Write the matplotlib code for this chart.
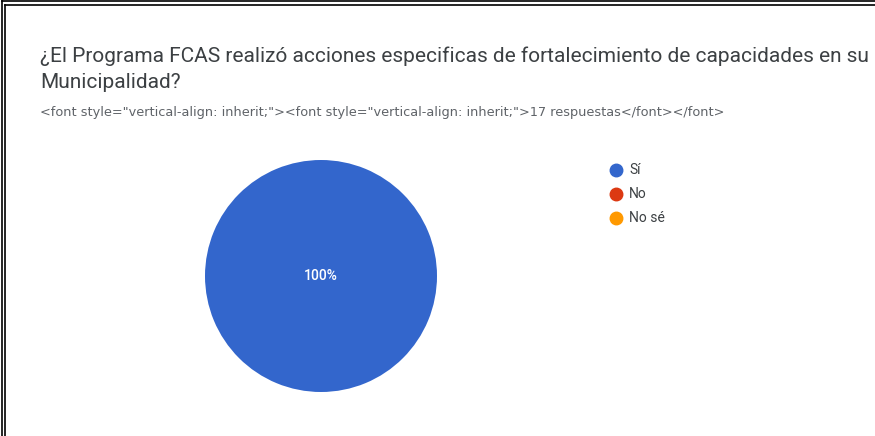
import matplotlib.pyplot as plt
from matplotlib.lines import Line2D

# -----------------------------
#  Datos de la encuesta
# -----------------------------
titulo_1 = "¿El Programa FCAS realizó acciones especificas de fortalecimiento de capacidades en su"
titulo_2 = "Municipalidad?"
subtitulo = "<font style=\"vertical-align: inherit;\"><font style=\"vertical-align: inherit;\">17 respuestas</font></font>"
categorias = ["Sí", "No", "No sé"]
respuestas = [17, 0, 0]
colores = ["#3366CC", "#DC3912", "#FF9900"]

plt.rcParams['font.family'] = ['Roboto', 'DejaVu Sans']

W, H = 875, 436
fig = plt.figure(figsize=(W / 100, H / 100), dpi=100)

# borde doble arriba e izquierda
for off in (1.5, 5):
    fig.add_artist(Line2D([off / W, off / W], [0, 1 - off / H], color='black', lw=1.2))
    fig.add_artist(Line2D([off / W, 1], [1 - off / H, 1 - off / H], color='black', lw=1.2))

# títulos
fig.text(40 / W, 1 - 62 / H, titulo_1, fontsize=15, color='#3c4043', va='baseline')
fig.text(40 / W, 1 - 88 / H, titulo_2, fontsize=15, color='#3c4043', va='baseline')
fig.text(40 / W, 1 - 116 / H, subtitulo, fontsize=9.25, color='#5f6368', va='baseline',
         family=['DejaVu Sans'])

# pastel
cx, cy, r = 321, 276, 116
ax = fig.add_axes([(cx - r) / W, 1 - (cy + r) / H, 2 * r / W, 2 * r / H])
ax.pie(respuestas, colors=colores, startangle=90, counterclock=False, radius=1,
       autopct=lambda p: f'{p:.0f}%' if p > 0 else '',
       textprops=dict(color='white', fontsize=10, fontweight='medium'), pctdistance=0.0)
ax.set_xlim(-1, 1)
ax.set_ylim(-1, 1)
ax.set_aspect('equal')
ax.axis('off')

# leyenda
for i, (cat, col) in enumerate(zip(categorias, colores)):
    y = 1 - (170 + 24 * i) / H
    fig.add_artist(Line2D([616 / W], [y], marker='o', markersize=9,
                          markerfacecolor=col, markeredgecolor=col, linestyle='none'))
    fig.text(629 / W, y, cat, fontsize=10, color='#3c4043', va='center')

plt.savefig('out.png', dpi=100)
